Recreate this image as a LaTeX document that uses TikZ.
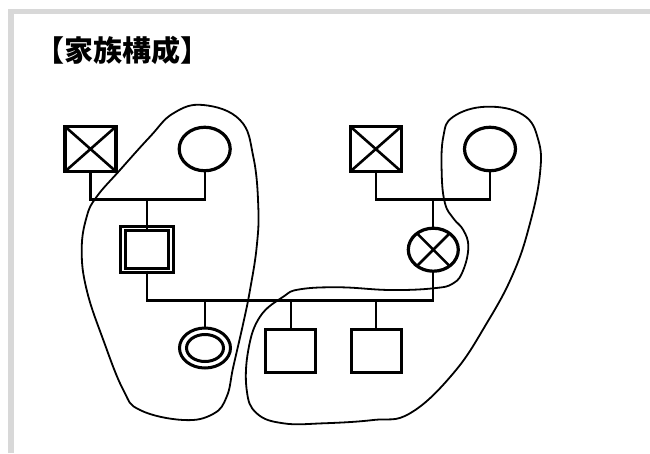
\documentclass[tikz,border=0pt]{standalone}
\usepackage{fontspec}
\newfontfamily\cjk{Noto Sans CJK JP}
\usetikzlibrary{shapes.geometric}
\definecolor{framegray}{RGB}{216,216,216}
\tikzset{
  shapeline/.style={draw=black, line width=3.2pt, inner sep=0pt, outer sep=0pt},
  male/.style={shapeline, rectangle, minimum width=51pt, minimum height=45pt},
  female/.style={shapeline, ellipse, minimum width=51pt, minimum height=43.5pt},
  conn/.style={draw=black, line width=2.2pt},
  crossline/.style={draw=black, line width=2.6pt},
  blob/.style={draw=black, line width=1.8pt, line join=round},
}
\begin{document}
\begin{tikzpicture}[x=1pt,y=-1pt]
\useasboundingbox (0,0) rectangle (650,453);
\fill[white] (0,0) rectangle (650,453);
\draw[framegray, line width=5.5pt] (11,453) -- (11,11.5) -- (650,11.5);

\node[anchor=base west, inner sep=0pt, font={\cjk\bfseries\fontsize{29}{33}\selectfont}] (title) at (35,61) {【家族構成】};

% left grandparents
\node[male] (gf1) at (90.5,149) {};
\node[female] (gm1) at (204.7,149) {};
% right grandparents
\node[male] (gf2) at (375.8,149) {};
\node[female] (gm2) at (490,149) {};
% father (double square)
\node[draw=black, rectangle, line width=3pt, double=white, double distance=1.8pt, inner sep=0pt, outer sep=0pt, minimum width=48pt, minimum height=42pt] (fa) at (147,249.5) {};
% mother (circle with X)
\node[female, minimum width=50pt, minimum height=43pt] (mo) at (433.3,249.7) {};
% daughter (double circle)
\node[shapeline, ellipse, line width=3pt, minimum width=51pt, minimum height=40pt] (da) at (205,348) {};
\node[shapeline, ellipse, line width=3pt, minimum width=37pt, minimum height=27pt] (dai) at (205,348) {};
% sons
\node[male, minimum width=50pt, minimum height=43pt] (s1) at (290.7,350.7) {};
\node[male, minimum width=50pt, minimum height=43pt] (s2) at (376.3,350.7) {};

% crosses
\draw[crossline] (gf1.north west) -- (gf1.south east) (gf1.south west) -- (gf1.north east);
\draw[crossline] (gf2.north west) -- (gf2.south east) (gf2.south west) -- (gf2.north east);
\draw[crossline] (mo.45) -- (mo.225) (mo.135) -- (mo.-45);

% connectors
\coordinate (j1) at (147,199.5);
\coordinate (j2) at (433.3,199.5);
\coordinate (j3) at (433.3,300.5);
\draw[conn] (gf1.south) |- (j1) -| (gm1.south);
\draw[conn] (j1) -- (fa.north);
\draw[conn] (gf2.south) |- (j2) -| (gm2.south);
\draw[conn] (j2) -- (mo.north);
\draw[conn] (fa.south) |- (j3) -- (mo.south);
\draw[conn] (da.north) -- (da.north |- j3);
\draw[conn] (s1.north) -- (s1.north |- j3);
\draw[conn] (s2.north) -- (s2.north |- j3);

% enclosures
\draw[blob] plot[smooth cycle, tension=0.7] coordinates {
 (203.3,105) (240,120) (253.3,156.7) (258.3,206.7) (256.7,246.7) (250,290)
 (243.3,323) (233.3,366.7) (226.7,396.7) (213,414) (183.3,420) (140,410)
 (123.3,390) (103.3,340) (86.7,290) (81.7,250) (86.7,216.7) (96.7,196.7)
 (120,170) (150,136.7) (173.3,113.3)};
\draw[blob] plot[smooth cycle, tension=0.7] coordinates {
 (486.7,106.7) (523.3,115) (538.3,140) (540,173.3) (530,223.3) (513.3,273.3)
 (486.7,323.3) (453.3,373.3) (410,413.3) (373.3,420) (323.3,423.3) (283.3,423.3)
 (256.7,413.3) (246.7,390) (248.3,350) (260,316.7) (283.3,296.7) (300,289.3)
 (340,287.3) (390,290) (433.3,288.3) (453.3,283.3) (463.3,270) (468.3,246.7)
 (463.3,230) (453.3,218.3) (445,203.3) (441.7,173.3) (443.3,136.7) (453.3,116.7)};
\end{tikzpicture}
\end{document}
